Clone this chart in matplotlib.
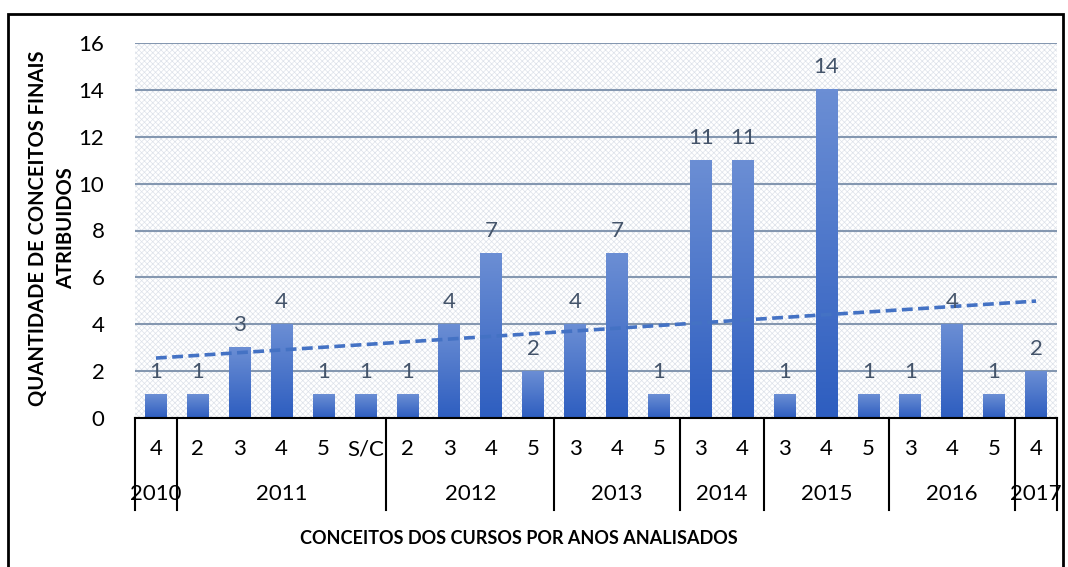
import numpy as np
import matplotlib
matplotlib.use('Agg')
import matplotlib.pyplot as plt
from matplotlib.colors import LinearSegmentedColormap
from matplotlib.patches import Rectangle
import matplotlib.transforms as mtransforms

# dados
anos = ['2010', '2011', '2012', '2013', '2014', '2015', '2016', '2017']
conceitos = [
    ['4'],
    ['2', '3', '4', '5', 'S/C'],
    ['2', '3', '4', '5'],
    ['3', '4', '5'],
    ['3', '4'],
    ['3', '4', '5'],
    ['3', '4', '5'],
    ['4'],
]
valores = [1, 1, 3, 4, 1, 1, 1, 4, 7, 2, 4, 7, 1, 11, 11, 1, 14, 1, 1, 4, 1, 2]

plt.rcParams['font.family'] = ['Lato', 'DejaVu Sans']
plt.rcParams['hatch.linewidth'] = 0.5

rotulos = [c for grupo in conceitos for c in grupo]
x = np.arange(len(valores))

fig = plt.figure(figsize=(10.68, 5.67), dpi=100)
ax = fig.add_axes([135/1068, 1-418/567, (1057-135)/1068, (418-43)/567])

# fundo com textura
ax.add_patch(Rectangle((0, 0), 1, 1, transform=ax.transAxes, facecolor='white',
                       hatch='xxxxxx', edgecolor='#dde2ea', linewidth=0, zorder=0))

bars = ax.bar(x, valores, width=0.52, color='none', zorder=3)
cmap = LinearSegmentedColormap.from_list('g', ['#2e5ec0', '#6b8ed4'])
grad = np.linspace(0, 1, 100).reshape(-1, 1)
for b in bars:
    ax.imshow(grad, cmap=cmap, origin='lower', aspect='auto', zorder=3,
              extent=(b.get_x(), b.get_x() + b.get_width(), 0, b.get_height()))
    ax.annotate(str(int(b.get_height())), (b.get_x() + b.get_width()/2, b.get_height()),
                xytext=(0, 9), textcoords='offset points', ha='center', va='bottom',
                fontsize=16, color='#44546a', zorder=5)

# linha de tendência
coef = np.polyfit(x, valores, 1)
ax.plot(x, np.polyval(coef, x), linestyle=(0, (3, 1.5)), color='#4472c4', lw=2.6, zorder=4)

ax.set_xlim(-0.5, len(valores) - 0.5)
ax.set_ylim(0, 16)
ax.set_yticks(range(0, 17, 2))
ax.grid(axis='y', color='#8497b0', lw=1.5, zorder=1)
ax.set_axisbelow(True)
for s in ['top', 'right', 'left']:
    ax.spines[s].set_visible(False)
ax.spines['bottom'].set_color('black')
ax.spines['bottom'].set_linewidth(1.5)
ax.spines['bottom'].set_zorder(6)
ax.tick_params(axis='y', length=0, labelsize=16, pad=22)
ax.set_xticks([])

# eixo hierárquico
trans = mtransforms.blended_transform_factory(ax.transData, ax.transAxes)
for xi, r in zip(x, rotulos):
    ax.text(xi, -0.083, r, transform=trans, ha='center', va='center', fontsize=16, clip_on=False)
inicio = -0.5
limites = [inicio]
for ano, grupo in zip(anos, conceitos):
    fim = inicio + len(grupo)
    ax.text((inicio + fim)/2, -0.203, ano, transform=trans, ha='center', va='center',
            fontsize=16, clip_on=False)
    limites.append(fim)
    inicio = fim
for l in limites:
    ax.plot([l, l], [0, -0.245], transform=trans, color='black', lw=1.5, clip_on=False)

fig.text(52/1068, 1-228/567, 'QUANTIDADE DE CONCEITOS FINAIS\nATRIBUIDOS', rotation=90,
         ha='center', va='center', fontsize=14.5, fontweight='bold', linespacing=1.55)
fig.text(519/1068, 1-539/567, 'CONCEITOS DOS CURSOS POR ANOS ANALISADOS', ha='center',
         va='center', fontsize=13, fontweight='bold')

# moldura
fig.add_artist(Rectangle((8/1068, -0.01), (1063-8)/1068, 1-14/567+0.01, transform=fig.transFigure,
                         fill=False, edgecolor='black', lw=2))

fig.savefig('out.png', dpi=100)
